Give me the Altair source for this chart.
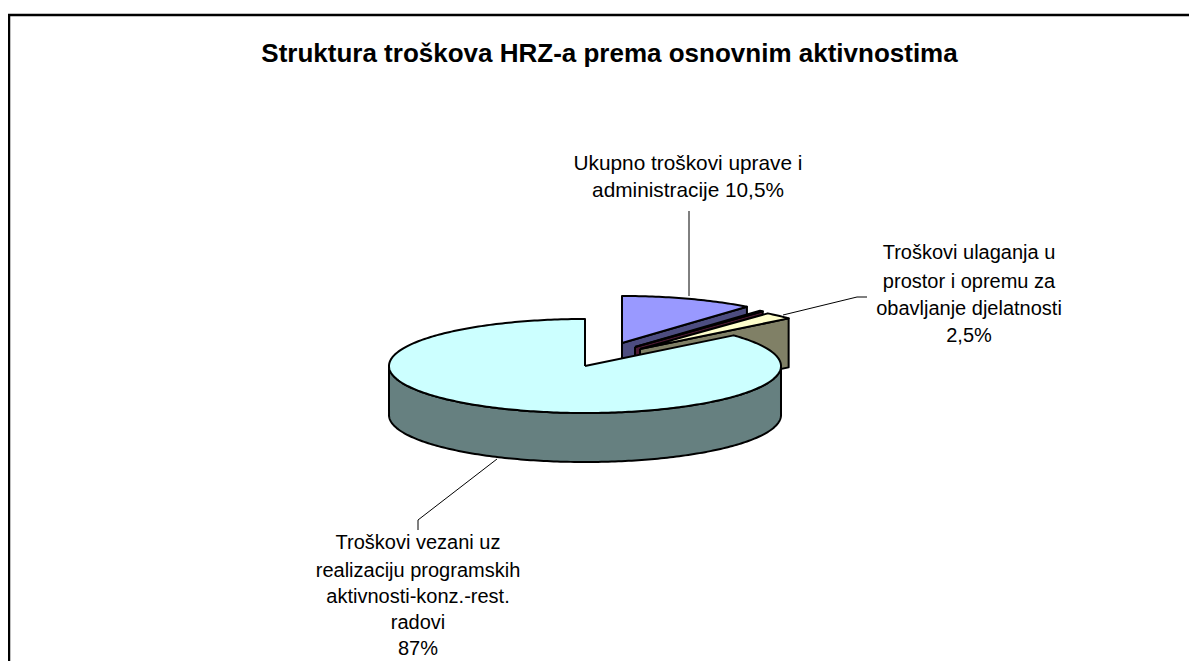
import math
import altair as alt
import pandas as pd

TITLE = "Struktura troškova HRZ-a prema osnovnim aktivnostima"
# drawn sweep of each slice (percent of the circle)
slice_names = ["uprava", "tanki", "ulaganja", "programi"]
slice_shares = [11.0, 0.3, 2.4, 86.3]
top_colors = ["#9999FF", "#993366", "#FFFFCC", "#CCFFFF"]
side_colors = ["#4D4D80", "#4D1A33", "#808066", "#668080"]
# exploded centre of each slice
centre_x = [622, 635, 640, 585]
centre_y = [343, 347, 349, 366]
RX, RY, DEPTH = 196, 47, 49

label_lines = ["Ukupno troškovi uprave i", "administracije 10,5%",
               "Troškovi ulaganja u", "prostor i opremu za", "obavljanje djelatnosti", "2,5%",
               "Troškovi vezani uz", "realizaciju programskih", "aktivnosti-konz.-rest.", "radovi", "87%"]
label_x = [688, 688, 969, 969, 969, 969, 418, 418, 418, 418, 418]
label_y = [164, 191, 253, 282, 309, 336, 543, 571, 597, 623, 649]
label_size = [20.8, 20.8, 20, 20, 20, 20, 20, 20, 20, 20, 20]
leaders = [[(689, 296), (689, 211)],
           [(783, 315), (857, 297), (867, 297)],
           [(497, 459), (418, 520), (418, 530)]]

rows = []
seq = 0


def add(points, name, fill):
    global seq
    seq += 1
    for k, (x, y) in enumerate(points + points[:1]):
        rows.append(dict(poly=seq, k=k, x=x, y=y, name=name, fill=fill))


start = 0.0
for name, share, ctop, cside, cx, cy in zip(slice_names, slice_shares, top_colors, side_colors, centre_x, centre_y):
    end = start + share * 3.6
    n = max(2, int(end - start) + 1)
    rim = []
    for i in range(n + 1):
        a = math.radians(start + (end - start) * i / n)
        rim.append((cx + RX * math.sin(a), cy - RY * math.cos(a)))
    if name == "programi":
        front = []
        for i in range(n + 1):
            a = math.radians(start + (end - start) * i / n)
            if math.cos(a) <= 0:
                front.append((cx + RX * math.sin(a), cy - RY * math.cos(a)))
        add(front + [(x, y + DEPTH) for x, y in reversed(front)], name, cside)
    else:
        tip = rim[-1]
        add([(cx, cy), tip, (tip[0], tip[1] + DEPTH), (cx, cy + DEPTH)], name, cside)
    add([(cx, cy)] + rim, name, ctop)
    start = end

polys = pd.DataFrame(rows)
xs = alt.Scale(domain=[8, 1189], range=[0, 1181])
ys = alt.Scale(domain=[8, 661], range=[0, 653])
X = alt.X("x:Q", scale=xs, axis=None)
Y = alt.Y("y:Q", scale=ys, axis=None)

layers = []
leader_rows = []
for i, pts in enumerate(leaders):
    for k, (x, y) in enumerate(pts):
        leader_rows.append(dict(i=i, k=k, x=x, y=y))
layers.append(alt.Chart(pd.DataFrame(leader_rows)).mark_line(color="#000000", strokeWidth=1).encode(
    x=X, y=Y, detail="i:N", order="k:Q"))
for pid in polys["poly"].unique():
    sub = polys[polys["poly"] == pid]
    layers.append(alt.Chart(sub).mark_line(
        fill=sub["fill"].iloc[0], stroke="#000000", strokeWidth=2, strokeJoin="round", clip=False
    ).encode(x=X, y=Y, order="k:Q"))

frame = pd.DataFrame([dict(i=0, k=0, x=8, y=15), dict(i=0, k=1, x=1189, y=15),
                      dict(i=1, k=0, x=9, y=15), dict(i=1, k=1, x=9, y=661)])
layers.append(alt.Chart(frame).mark_line(color="#000000", strokeWidth=2.5, clip=False).encode(
    x=X, y=Y, detail="i:N", order="k:Q"))

labels = pd.DataFrame(dict(t=label_lines, x=label_x, y=label_y, s=label_size))
layers.append(alt.Chart(labels).mark_text(font="Liberation Sans", color="#000000",
                                          align="center", baseline="middle").encode(
    x=X, y=Y, text="t:N", size=alt.Size("s:Q", scale=None, legend=None)))
layers.append(alt.Chart(pd.DataFrame(dict(t=[TITLE], x=[609.5], y=[54]))).mark_text(
    font="Liberation Sans", fontSize=26, fontWeight="bold", color="#000000",
    align="center", baseline="middle").encode(x=X, y=Y, text="t:N"))

chart = alt.layer(*layers).properties(width=1181, height=653, padding=0,
                                      autosize=alt.AutoSizeParams(type="none")
                                      ).configure_view(stroke=None)
chart.save("out.html", embed_options={"renderer": "svg", "actions": False})
